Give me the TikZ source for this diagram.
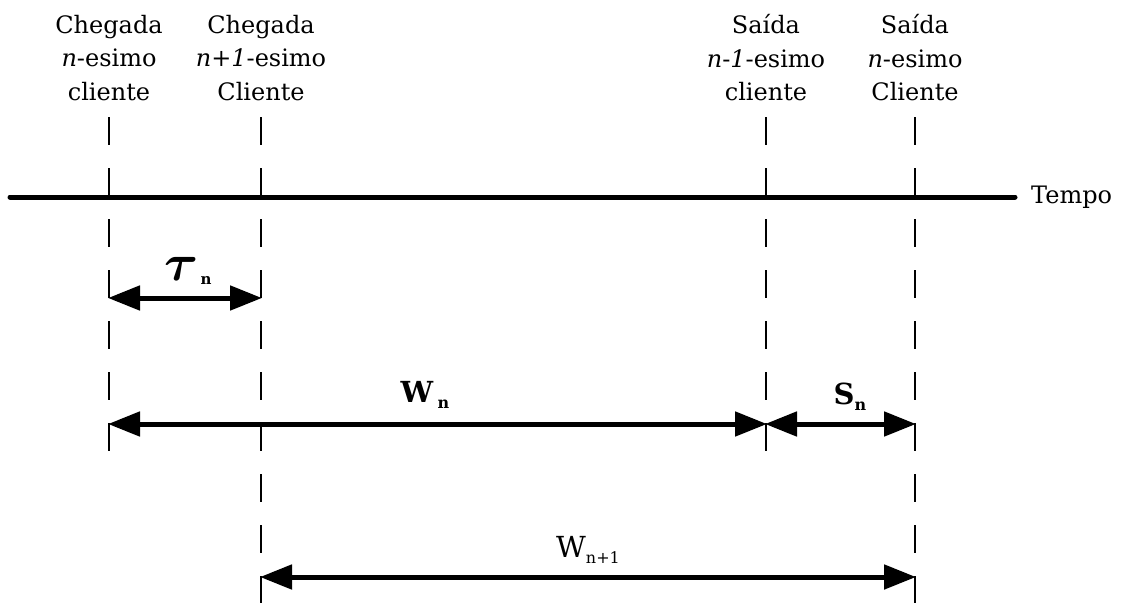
\documentclass[tikz,border=0pt]{standalone}
\usepackage{fontspec}
\usepackage{amsmath}
\setmainfont{DejaVu Serif}
\usetikzlibrary{arrows.meta}
\tikzset{
  guide/.style={line width=1.4pt, dash pattern=on 28pt off 23pt},
  axis/.style={line width=5pt, line cap=round},
  span/.style={line width=5pt, {Triangle[length=32pt,width=24pt]}-{Triangle[length=32pt,width=24pt]}, shorten <=-1pt, shorten >=-1pt},
  head/.style={align=center, font=\fontsize{24}{33.5}\selectfont, inner sep=0pt},
  lab/.style={inner sep=0pt, font=\fontsize{29}{29}\selectfont}
}
\newcommand{\subn}[1]{\raisebox{-6pt}{\fontsize{16}{16}\selectfont #1}}
\begin{document}
\begin{tikzpicture}[x=1pt,y=-1pt]
\useasboundingbox (0,0) rectangle (1124,603);
% guide coordinates
\coordinate (a1) at (109,117);
\coordinate (a2) at (109,452);
\coordinate (b1) at (261,117);
\coordinate (b2) at (261,603);
\coordinate (c1) at (766,117);
\coordinate (c2) at (766,452);
\coordinate (d1) at (915,117);
\coordinate (d2) at (915,603);
\draw[guide] (a1) -- (a2);
\draw[guide] (b1) -- (b2);
\draw[guide] (c1) -- (c2);
\draw[guide] (d1) -- (d2);
% headings
\node[head] (h1) at (109,58) {Chegada\\\textit{n}-esimo\\cliente};
\node[head] (h2) at (261,58) {Chegada\\\textit{n}+\textit{1}-esimo\\Cliente};
\node[head] (h3) at (766,58) {Saída\\\textit{n}-\textit{1}-esimo\\cliente};
\node[head] (h4) at (915,58) {Saída\\\textit{n}-esimo\\Cliente};
% time axis
\coordinate (t0) at (10,197);
\coordinate (t1) at (1015,197);
\draw[axis] (t0) -- (t1);
\node[anchor=west, font=\fontsize{24}{24}\selectfont, inner sep=0pt] (tempo) at (1031,197) {Tempo};
% spans
\coordinate (tauL) at (109,298);
\coordinate (tauR) at (261,298);
\draw[span] (tauL) -- (tauR);
\node[inner sep=0pt] (taulab) at (188,271) {\scalebox{5.2}{$\boldsymbol{\tau}$}\hspace{2pt}\raisebox{-4pt}{\fontsize{15}{15}\selectfont\bfseries n}};
\coordinate (wL) at (109,424);
\coordinate (wR) at (766,424);
\coordinate (sR) at (915,424);
\draw[span] (wL) -- (wR);
\draw[span] (wR) -- (sR);
\node[lab] (wlab) at (425,395) {\textbf{W}\hspace{4pt}\subn{\bfseries n}};
\node[lab] (slab) at (850,397) {\textbf{S}\subn{\bfseries n}};
\coordinate (w1L) at (261,577);
\coordinate (w1R) at (915,577);
\draw[span] (w1L) -- (w1R);
\node[lab] (w1lab) at (588,550) {W\subn{n+1}};
\end{tikzpicture}
\end{document}
